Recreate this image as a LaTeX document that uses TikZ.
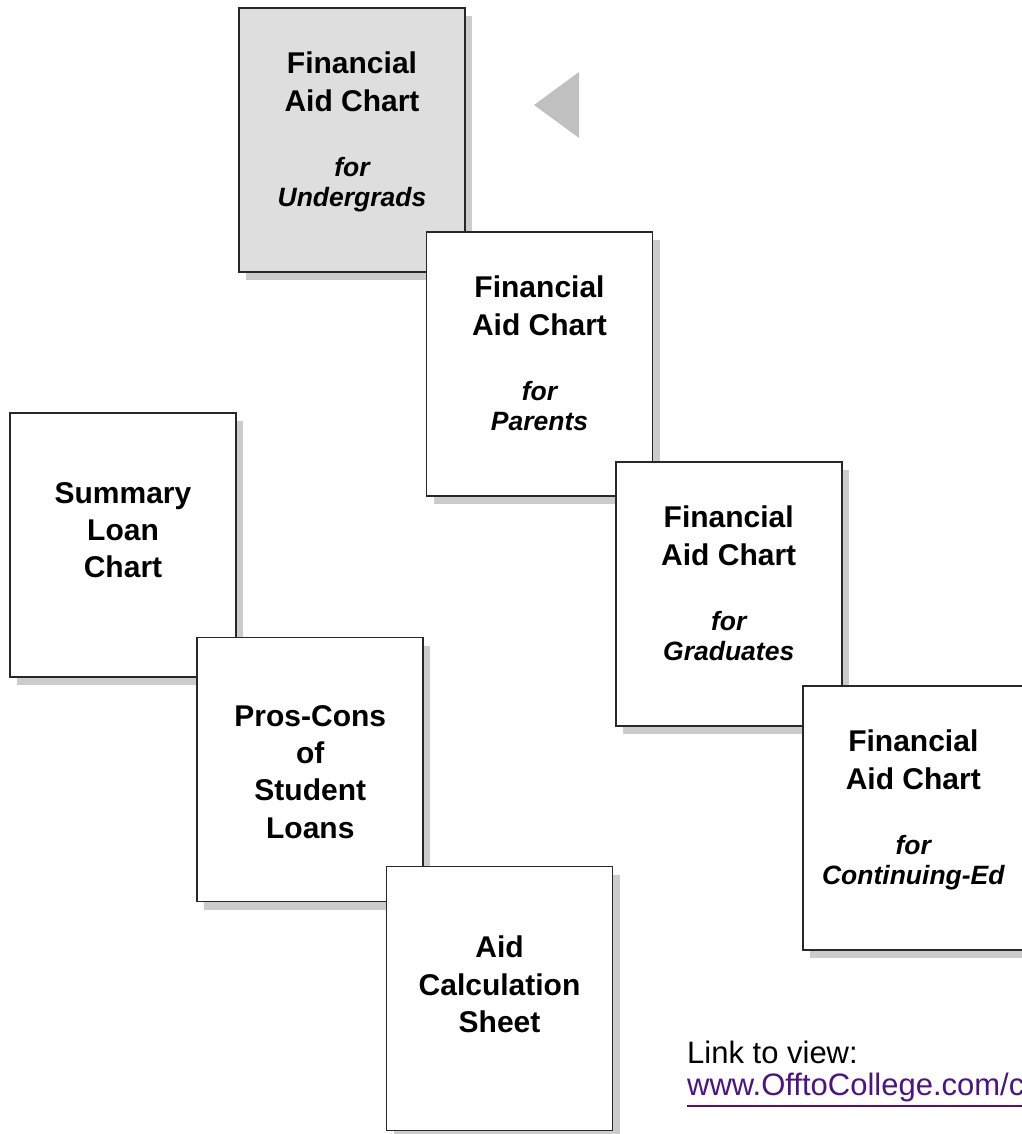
\documentclass[tikz,border=0pt]{standalone}
\usepackage{fontspec}
\setmainfont{Liberation Sans}
\usetikzlibrary{shadows}
\definecolor{cardedge}{RGB}{40,40,40}
\definecolor{cardgray}{RGB}{222,222,222}
\definecolor{shadowgray}{RGB}{204,204,204}
\definecolor{pointergray}{RGB}{192,192,192}
\definecolor{urlpurple}{RGB}{75,20,130}
\newcommand{\forwho}[1]{{\fontsize{26.5}{30}\selectfont\itshape for}\\[-7.3pt]{\fontsize{26.5}{30}\selectfont\itshape #1}}

\begin{document}
\begin{tikzpicture}[x=1pt,y=-1pt]
    \tikzset{card/.style={draw=cardedge, line width=1.8pt, fill=white,
        minimum width=226pt, minimum height=264pt, inner sep=0pt,
        drop shadow={shadow xshift=7pt, shadow yshift=-8pt, fill=shadowgray, draw=none, opacity=1}},
      cardtext/.style={align=center, inner sep=0pt, font=\fontsize{30}{37.3}\selectfont\bfseries},
      linktext/.style={anchor=base west, inner sep=0pt, font=\fontsize{31}{32}\selectfont}}
\useasboundingbox (0,0) rectangle (1021,1134);
% left column
\node[card] (sum) at (123,544.7) {};
\node[cardtext] (sumT) at ([yshift=14.4pt]sum.center) {Summary\\Loan\\Chart};
\node[card] (pros) at (310.3,769.5) {};
\node[cardtext] (prosT) at ([yshift=-2.5pt]pros.center) {Pros-Cons\\of\\Student\\Loans};
\node[card] (calc) at (499.5,998.5) {};
\node[cardtext] (calcT) at ([yshift=14pt]calc.center) {Aid\\Calculation\\Sheet};
% right column
\node[card, fill=cardgray] (ugrad) at (352,140) {};
\node[cardtext] (ugradT) at ([yshift=7.7pt]ugrad.center) {Financial\\Aid Chart\\[28.4pt]\forwho{Undergrads}};
\node[card] (par) at (539.5,364) {};
\node[cardtext] (parT) at ([yshift=10.5pt]par.center) {Financial\\Aid Chart\\[28.4pt]\forwho{Parents}};
\node[card] (grad) at (728.7,593.7) {};
\node[cardtext] (gradT) at ([yshift=10pt]grad.center) {Financial\\Aid Chart\\[28.4pt]\forwho{Graduates}};
\node[card] (cont) at (916.3,818) {};
\node[cardtext] (contT) at ([yshift=7.7pt,xshift=-3pt]cont.center) {Financial\\Aid Chart\\[28.4pt]\forwho{Continuing-Ed}};
% pointer
\fill[pointergray] (534,105) -- (579,72) -- (579,138) -- cycle;
% link
\node[linktext] (link) at (687,1063) {Link to view:};
\node[linktext, text=urlpurple] (url) at (687,1095) {www.OfftoCollege.com/c};
\draw[urlpurple, line width=1.5pt] ([yshift=-11pt]url.base west) -- ([yshift=-11pt]url.base east);
\end{tikzpicture}
\end{document}
